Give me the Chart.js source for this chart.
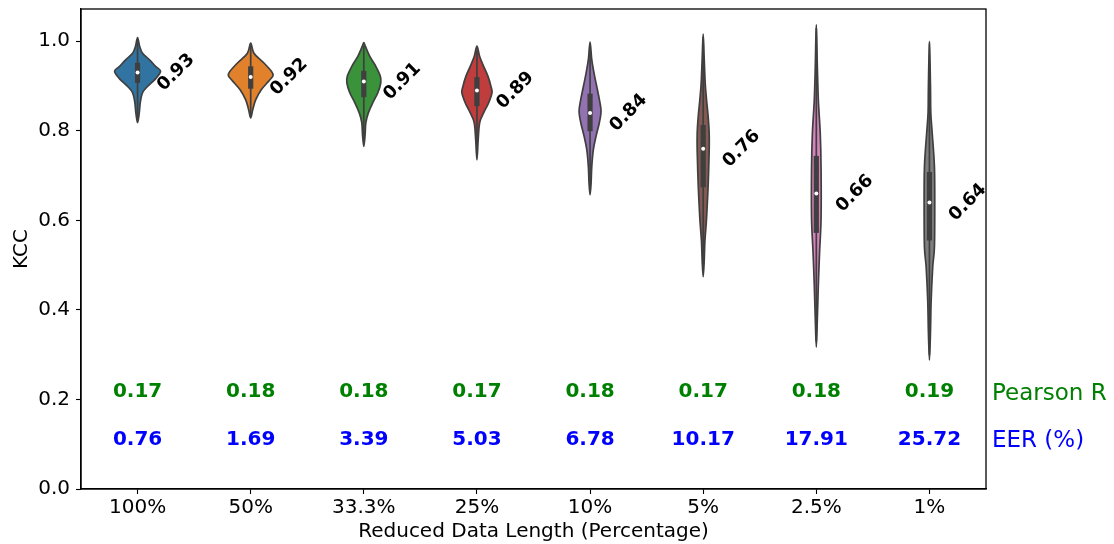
<!DOCTYPE html>
<html>
<head>
<meta charset="utf-8">
<script src="https://cdn.jsdelivr.net/npm/chart.js@4.4.1/dist/chart.umd.min.js"></script>
<style>
  html, body { margin: 0; padding: 0; background: #ffffff; }
  #wrap { width: 1114px; height: 544px; }
</style>
</head>
<body>
<div id="wrap"><canvas id="chart" width="1114" height="544"></canvas></div>
<script>
// ---- data ----
const categories = ['100%', '50%', '33.3%', '25%', '10%', '5%', '2.5%', '1%'];
const medians = [0.93, 0.92, 0.91, 0.89, 0.84, 0.76, 0.66, 0.64];
const q1 = [0.907, 0.894, 0.875, 0.855, 0.799, 0.674, 0.572, 0.555];
const q3 = [0.952, 0.944, 0.934, 0.920, 0.883, 0.813, 0.744, 0.708];
const whiskerLow = [0.825, 0.835, 0.775, 0.745, 0.665, 0.490, 0.330, 0.300];
const whiskerHigh = [1.000, 0.990, 0.990, 0.980, 0.990, 1.010, 1.030, 0.995];
const pearsonR = ['0.17', '0.18', '0.18', '0.17', '0.18', '0.17', '0.18', '0.19'];
const eerPct = ['0.76', '1.69', '3.39', '5.03', '6.78', '10.17', '17.91', '25.72'];
const yTicks = [0.0, 0.2, 0.4, 0.6, 0.8, 1.0];

// kernel density outline of each group: [KCC, half width in category units]
const density100 = [[1.008,0],[0.989,0.018],[0.973,0.044],[0.959,0.103],[0.944,0.159],[0.933,0.203],[0.916,0.159],[0.899,0.088],[0.885,0.044],[0.863,0.024],[0.840,0.015],[0.818,0]];
const density50 = [[0.996,0],[0.973,0.029],[0.952,0.115],[0.933,0.183],[0.923,0.197],[0.911,0.159],[0.892,0.095],[0.869,0.044],[0.847,0.018],[0.829,0]];
const density33 = [[0.997,0],[0.989,0.013],[0.966,0.053],[0.944,0.106],[0.922,0.146],[0.907,0.150],[0.885,0.124],[0.863,0.080],[0.840,0.040],[0.818,0.018],[0.790,0.011],[0.765,0]];
const density25 = [[0.989,0],[0.966,0.024],[0.944,0.059],[0.922,0.097],[0.899,0.124],[0.885,0.133],[0.862,0.103],[0.840,0.059],[0.818,0.024],[0.780,0.011],[0.735,0]];
const density10 = [[0.998,0],[0.959,0.015],[0.929,0.035],[0.899,0.059],[0.870,0.082],[0.844,0.097],[0.818,0.082],[0.788,0.053],[0.758,0.029],[0.720,0.015],[0.683,0.009],[0.657,0]];
const density5 = [[1.016,0],[0.960,0.009],[0.905,0.018],[0.868,0.030],[0.831,0.044],[0.794,0.053],[0.756,0.053],[0.680,0.044],[0.606,0.030],[0.553,0.015],[0.510,0.009],[0.474,0]];
const density2p5 = [[1.037,0],[0.943,0.009],[0.868,0.018],[0.793,0.035],[0.717,0.042],[0.605,0.042],[0.530,0.029],[0.456,0.018],[0.380,0.009],[0.317,0]];
const density1 = [[1.000,0],[0.900,0.009],[0.840,0.012],[0.796,0.024],[0.720,0.044],[0.630,0.047],[0.540,0.044],[0.496,0.029],[0.420,0.015],[0.349,0.009],[0.288,0]];
const densities = [density100, density50, density33, density25, density10, density5, density2p5, density1];

// ---- style ----
const palette = ['#3274a1', '#e1812c', '#3a923a', '#c03d3e', '#9372b2', '#845b53', '#d684bd', '#7f7f7f'];
const edgeGray = '#3f3f3f';
const FONT = "'DejaVu Sans', 'Liberation Sans', sans-serif";

Chart.defaults.font.family = FONT;
Chart.defaults.color = '#000000';

// closed Catmull-Rom curve through pixel points
function smoothClosed(ctx, pts) {
  const n = pts.length;
  ctx.moveTo(pts[0].x, pts[0].y);
  for (let k = 0; k < n; k++) {
    const p0 = pts[(k - 1 + n) % n], p1 = pts[k], p2 = pts[(k + 1) % n], p3 = pts[(k + 2) % n];
    const c1x = p1.x + (p2.x - p0.x) / 6, c1y = p1.y + (p2.y - p0.y) / 6;
    const c2x = p2.x - (p3.x - p1.x) / 6, c2y = p2.y - (p3.y - p1.y) / 6;
    ctx.bezierCurveTo(c1x, c1y, c2x, c2y, p2.x, p2.y);
  }
  ctx.closePath();
}

const violinPlugin = {
  id: 'violins',
  beforeDatasetsDraw(chart) {
    const { ctx, scales: { x, y } } = chart;
    ctx.save();
    densities.forEach((prof, i) => {
      const right = prof.map(([v, w]) => ({ x: x.getPixelForValue(i + w), y: y.getPixelForValue(v) }));
      const left = prof.slice(1, -1).reverse().map(([v, w]) => ({ x: x.getPixelForValue(i - w), y: y.getPixelForValue(v) }));
      const pts = right.concat(left);
      ctx.beginPath();
      smoothClosed(ctx, pts);
      ctx.fillStyle = palette[i];
      ctx.fill();
      ctx.lineWidth = 1.7;
      ctx.strokeStyle = edgeGray;
      ctx.lineJoin = 'round';
      ctx.stroke();

      const cx = x.getPixelForValue(i);
      // whiskers
      ctx.beginPath();
      ctx.moveTo(cx, y.getPixelForValue(whiskerLow[i]));
      ctx.lineTo(cx, y.getPixelForValue(whiskerHigh[i]));
      ctx.lineWidth = 1.7;
      ctx.lineCap = 'butt';
      ctx.stroke();
      // interquartile box
      ctx.beginPath();
      ctx.moveTo(cx, y.getPixelForValue(q1[i]));
      ctx.lineTo(cx, y.getPixelForValue(q3[i]));
      ctx.lineWidth = 5.2;
      ctx.stroke();
    });
    ctx.restore();
  },
  afterDatasetsDraw(chart) {
    const { ctx, chartArea: ca, scales: { x, y } } = chart;
    ctx.save();
    // frame on all four sides
    ctx.strokeStyle = '#000000';
    ctx.lineWidth = 1.3;
    ctx.strokeRect(ca.left, ca.top, ca.right - ca.left, ca.bottom - ca.top);

    // median value labels
    ctx.fillStyle = '#000000';
    ctx.font = `bold 18px ${FONT}`;
    ctx.textAlign = 'center';
    ctx.textBaseline = 'middle';
    medians.forEach((m, i) => {
      ctx.save();
      ctx.translate(x.getPixelForValue(i + 0.34), y.getPixelForValue(m));
      ctx.rotate(-Math.PI / 4);
      ctx.fillText(m.toFixed(2), 0, 0);
      ctx.restore();
    });

    // Pearson R and EER rows
    ctx.font = `bold 20px ${FONT}`;
    pearsonR.forEach((t, i) => {
      ctx.fillStyle = '#008000';
      ctx.fillText(t, x.getPixelForValue(i), y.getPixelForValue(0.2175));
    });
    eerPct.forEach((t, i) => {
      ctx.fillStyle = '#0000ff';
      ctx.fillText(t, x.getPixelForValue(i), y.getPixelForValue(0.1095));
    });
    ctx.font = `23px ${FONT}`;
    ctx.textAlign = 'left';
    ctx.fillStyle = '#008000';
    ctx.fillText('Pearson R', ca.right + 6, y.getPixelForValue(0.212));
    ctx.fillStyle = '#0000ff';
    ctx.fillText('EER (%)', ca.right + 6, y.getPixelForValue(0.107));
    ctx.restore();
  }
};

new Chart(document.getElementById('chart'), {
  type: 'scatter',
  data: {
    datasets: [{
      label: 'median',
      data: medians.map((m, i) => ({ x: i, y: m })),
      pointRadius: 2,
      pointHoverRadius: 2,
      pointBackgroundColor: '#ffffff',
      pointBorderColor: '#ffffff',
      pointBorderWidth: 0
    }]
  },
  plugins: [violinPlugin],
  options: {
    responsive: false,
    animation: false,
    devicePixelRatio: 1,
    layout: { padding: { left: 0, top: 9, right: 128, bottom: 0 } },
    plugins: { legend: { display: false }, tooltip: { enabled: false } },
    scales: {
      x: {
        type: 'linear',
        min: -0.5,
        max: 7.5,
        afterFit(scale) { scale.height = 55; scale.paddingLeft = 0; scale.paddingRight = 0; },
        afterBuildTicks(scale) { scale.ticks = categories.map((c, i) => ({ value: i })); },
        ticks: {
          autoSkip: false,
          maxRotation: 0,
          padding: 2,
          font: { size: 20 },
          color: '#000000',
          callback: (v) => categories[Math.round(v)]
        },
        grid: { display: true, drawOnChartArea: false, drawTicks: true, tickLength: 5, color: '#000000', tickWidth: 1.1 },
        border: { display: true, color: '#000000', width: 1.3 },
        title: { display: true, text: 'Reduced Data Length (Percentage)', font: { size: 20 }, color: '#000000', padding: { top: 0, bottom: 0 } }
      },
      y: {
        type: 'linear',
        min: 0,
        max: 1.072,
        afterFit(scale) { scale.width = 81; scale.paddingTop = 0; scale.paddingBottom = 0; },
        afterBuildTicks(scale) { scale.ticks = yTicks.map(v => ({ value: v })); },
        ticks: {
          padding: 6,
          font: { size: 20 },
          color: '#000000',
          callback: (v) => Number(v).toFixed(1)
        },
        grid: { display: true, drawOnChartArea: false, drawTicks: true, tickLength: 5, color: '#000000', tickWidth: 1.1 },
        border: { display: true, color: '#000000', width: 1.3 },
        title: { display: true, text: 'KCC', font: { size: 20 }, color: '#000000', padding: { top: 10, bottom: 0 } }
      }
    }
  }
});
</script>
</body>
</html>
